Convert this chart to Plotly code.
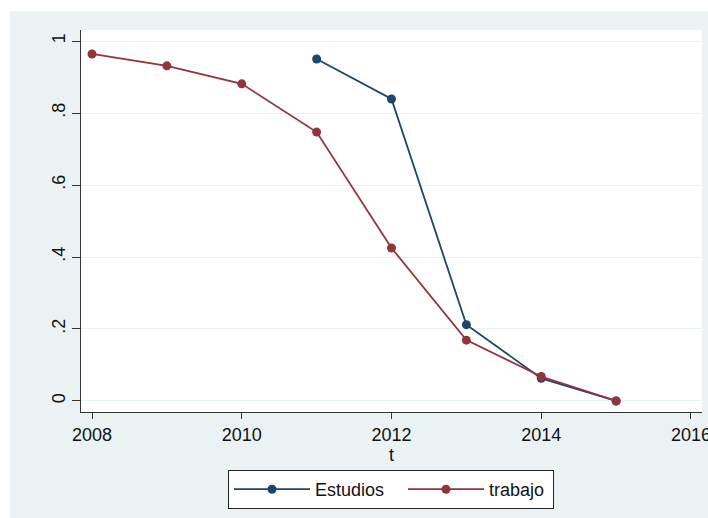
import plotly.graph_objects as go

years_est = [2011, 2012, 2013, 2014, 2015]
estudios = [0.950, 0.839, 0.212, 0.063, 0.0]
years_trab = [2008, 2009, 2010, 2011, 2012, 2013, 2014, 2015]
trabajo = [0.964, 0.931, 0.881, 0.747, 0.425, 0.169, 0.068, 0.0]

x_ticks = [2008, 2010, 2012, 2014, 2016]
y_ticks = [0, 0.2, 0.4, 0.6, 0.8, 1]
y_labels = ["0", ".2", ".4", ".6", ".8", "1"]

NAVY = "#1a476f"
MAROON = "#90353b"
BG = "#eaf2f3"
FONT = "Liberation Sans, Arial, sans-serif"

W, H = 708, 518
# plot area in window pixels: x 81..702, y 30..412
L, T = 81, 30
R = W - 702
B = H - 412
pw, ph = W - L - R, H - T - B


def px_x(v):
    return (v - L) / pw


def px_y(v):
    return (H - B - v) / ph


fig = go.Figure()
fig.add_trace(go.Scatter(x=years_est, y=estudios, mode="lines+markers", name="Estudios",
                         line=dict(color=NAVY, width=1.8), marker=dict(color=NAVY, size=9),
                         legendwidth=83))
fig.add_trace(go.Scatter(x=years_trab, y=trabajo, mode="lines+markers", name="trabajo",
                         line=dict(color=MAROON, width=1.8), marker=dict(color=MAROON, size=9),
                         legendwidth=59))

fig.add_shape(type="rect", xref="paper", yref="paper", x0=px_x(10), x1=px_x(720),
              y0=px_y(530), y1=px_y(11), fillcolor=BG, line=dict(width=0), layer="below")
fig.add_shape(type="rect", xref="paper", yref="paper", x0=0, x1=1, y0=0, y1=1,
              fillcolor="white", line=dict(width=0), layer="below")

fig.update_layout(
    width=W, height=H,
    margin=dict(l=L, r=R, t=T, b=B, autoexpand=False),
    paper_bgcolor="white", plot_bgcolor="white",
    font=dict(family=FONT, size=18, color="#111111"),
    showlegend=True,
    legend=dict(orientation="h", xanchor="left", x=px_x(228), yanchor="top", y=px_y(470),
                bgcolor="white", bordercolor="#222222", borderwidth=1,
                font=dict(size=18), itemwidth=76),
    xaxis=dict(range=[2007.853, 2016.147], tickvals=x_ticks, ticks="outside", ticklen=6,
               tickcolor="#333333", showline=True, linecolor="#333333", linewidth=1,
               showgrid=False, zeroline=False,
               title=dict(text="t", standoff=0, font=dict(size=18)),
               tickfont=dict(size=18), ticklabeloverflow="allow"),
    yaxis=dict(range=[-0.0306, 1.0306], tickvals=y_ticks, ticktext=y_labels, tickangle=-90,
               ticks="outside", ticklen=8, tickcolor="#333333", showline=True,
               linecolor="#333333", linewidth=1, showgrid=True, gridcolor=BG, gridwidth=1,
               zeroline=False, tickfont=dict(size=18)),
)

fig.write_html("out.html", config={"displayModeBar": False},
               post_script="document.body.style.margin='0';document.body.style.overflow='hidden';")
